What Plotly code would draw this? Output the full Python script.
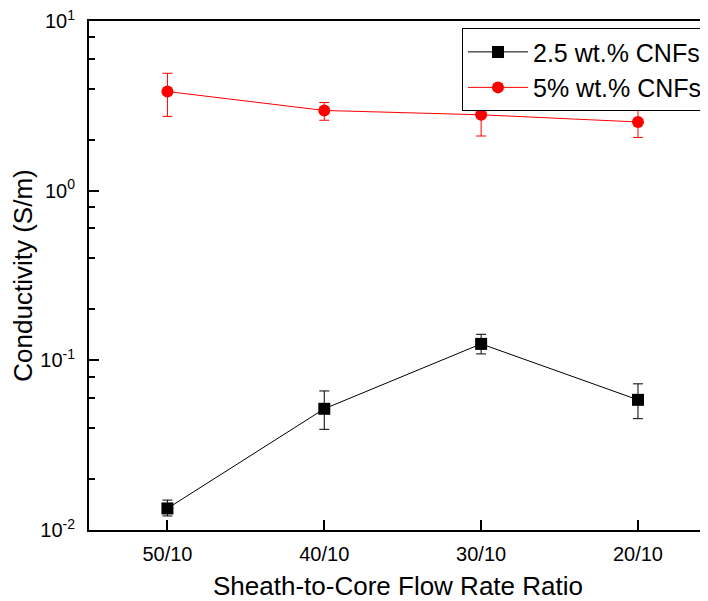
import plotly.graph_objects as go

categories = ["50/10", "40/10", "30/10", "20/10"]

cnf25 = [0.0134, 0.0518, 0.125, 0.0585]
cnf25_hi = [0.0150, 0.0660, 0.1424, 0.0727]
cnf25_lo = [0.0121, 0.0392, 0.1091, 0.0453]

cnf5 = [3.84, 2.97, 2.80, 2.54]
cnf5_hi = [4.92, 3.31, 3.47, 2.99]
cnf5_lo = [2.74, 2.60, 2.10, 2.06]

ytick_vals = [0.01, 0.1, 1, 10]
ytick_text = ["10<sup>-2</sup>", "10<sup>-1</sup>", "10<sup>0</sup>", "10<sup>1</sup>"]
yminor_vals = [0.02, 0.04, 0.06, 0.08, 0.2, 0.4, 0.6, 0.8, 2, 4, 6, 8]

xidx = list(range(len(categories)))

def plus(v, hi):
    return [h - a for a, h in zip(v, hi)]

def minus(v, lo):
    return [a - l for a, l in zip(v, lo)]

fig = go.Figure()
fig.add_trace(go.Scatter(
    x=xidx, y=cnf25, name="2.5 wt.% CNFs", mode="lines+markers",
    line=dict(color="black", width=1),
    marker=dict(symbol="square", size=12, color="black"),
    error_y=dict(type="data", symmetric=False, array=plus(cnf25, cnf25_hi),
                 arrayminus=minus(cnf25, cnf25_lo), color="black", thickness=1, width=5),
))
fig.add_trace(go.Scatter(
    x=xidx, y=cnf5, name="5% wt.% CNFs", mode="lines+markers",
    line=dict(color="red", width=1),
    marker=dict(symbol="circle", size=12, color="red"),
    error_y=dict(type="data", symmetric=False, array=plus(cnf5, cnf5_hi),
                 arrayminus=minus(cnf5, cnf5_lo), color="red", thickness=1, width=5),
))

font = "Liberation Sans, Arial, sans-serif"
fig.update_layout(
    width=700, height=593,
    margin=dict(l=81, r=0, t=13, b=71),
    paper_bgcolor="white", plot_bgcolor="white",
    font=dict(family=font, color="black", size=20),
    showlegend=True,
    legend=dict(x=0.604, y=0.986, xanchor="left", yanchor="top",
                bordercolor="black", borderwidth=1, bgcolor="white",
                font=dict(size=25, family=font), itemwidth=60,
                tracegroupgap=0),
    xaxis=dict(
        range=[-0.5, 3.44], tickmode="array", tickvals=xidx, ticktext=categories,
        ticks="inside", ticklen=10, tickwidth=2, tickcolor="black",
        showline=True, linecolor="black", linewidth=2, mirror=True,
        showgrid=False, zeroline=False, ticklabelstandoff=5,
        title=dict(text="Sheath-to-Core Flow Rate Ratio", font=dict(size=26), standoff=18),
        tickfont=dict(size=20),
    ),
    yaxis=dict(
        type="log", range=[-2, 1], tickmode="array", tickvals=ytick_vals, ticktext=ytick_text,
        ticks="inside", ticklen=10, tickwidth=2, tickcolor="black",
        minor=dict(tickmode="array", tickvals=yminor_vals, ticks="inside", ticklen=6,
                   tickwidth=2, tickcolor="black", showgrid=False),
        showline=True, linecolor="black", linewidth=2, mirror=False,
        showgrid=False, zeroline=False, ticklabelstandoff=8, ticklabeloverflow="allow",
        title=dict(text="Conductivity (S/m)", font=dict(size=26), standoff=10),
        tickfont=dict(size=20),
    ),
)

fig.write_html("out.html")
